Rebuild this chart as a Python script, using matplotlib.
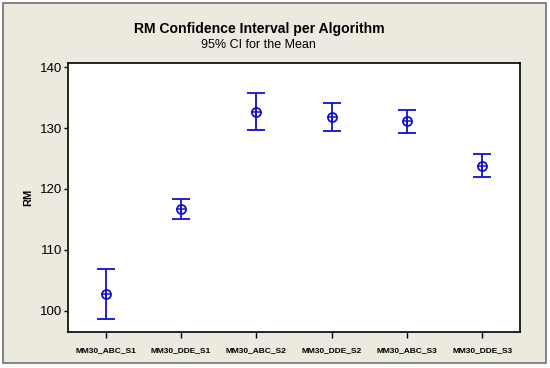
import matplotlib
matplotlib.use("Agg")
import matplotlib.pyplot as plt
from matplotlib.patches import Rectangle

# ── data ───────────────────────────────────────────────────────────────────
algorithms = ["MM30_ABC_S1", "MM30_DDE_S1", "MM30_ABC_S2",
              "MM30_DDE_S2", "MM30_ABC_S3", "MM30_DDE_S3"]
rm_mean  = [102.7, 116.7, 132.7, 131.9, 131.1, 123.8]
ci_lower = [98.7, 115.0, 129.7, 129.6, 129.25, 122.0]
ci_upper = [106.8, 118.3, 135.8, 134.2, 133.0, 125.7]

# ── style ──────────────────────────────────────────────────────────────────
BLUE = "#0F0FD2"
BG   = "#ECE9DF"
plt.rcParams["font.family"] = ["Liberation Sans", "DejaVu Sans"]

fig = plt.figure(figsize=(5.5, 3.68), dpi=100)
fig.patch.set_facecolor("white")
fig.patches.append(Rectangle((3 / 550, 5 / 368), 543 / 550, 360 / 368,
                             transform=fig.transFigure, facecolor=BG,
                             edgecolor="#707070", linewidth=1.2, zorder=-1))

ax = fig.add_axes([68 / 550, 1 - 332 / 368, 452 / 550, (332 - 63) / 368])
ax.set_facecolor("white")

x = list(range(1, len(algorithms) + 1))
yerr = [[m - lo for m, lo in zip(rm_mean, ci_lower)],
        [hi - m for m, hi in zip(rm_mean, ci_upper)]]

ax.errorbar(x, rm_mean, yerr=yerr, fmt="none", ecolor=BLUE,
            elinewidth=1.3, capsize=6.2, capthick=1.3)
ax.plot(x, rm_mean, "o", ms=6.5, mfc="none", mec=BLUE, mew=1.3)
ax.plot(x, rm_mean, "+", ms=6.5, color=BLUE, mew=1.1)

ax.set_xlim(0.5, len(algorithms) + 0.5)
ax.set_ylim(96.5, 140.7)
ax.set_yticks([100, 110, 120, 130, 140])
ax.set_xticks(x)
ax.set_xticklabels(algorithms, fontsize=6.0, fontweight="bold")
ax.tick_params(axis="y", labelsize=9.5, length=3, width=1, pad=1)
ax.tick_params(axis="x", length=4, width=1, pad=7)
for s in ax.spines.values():
    s.set_linewidth(1.2)
ax.set_ylabel("RM", fontsize=8, fontweight="bold", labelpad=5)

fig.text(259 / 550, 1 - 29 / 368, "RM Confidence Interval per Algorithm",
         ha="center", va="center", fontsize=10.1, fontweight="bold")
fig.text(258 / 550, 1 - 45 / 368, "95% CI for the Mean", ha="center",
         va="center", fontsize=9)

fig.savefig("out.png", dpi=100, facecolor="white")
